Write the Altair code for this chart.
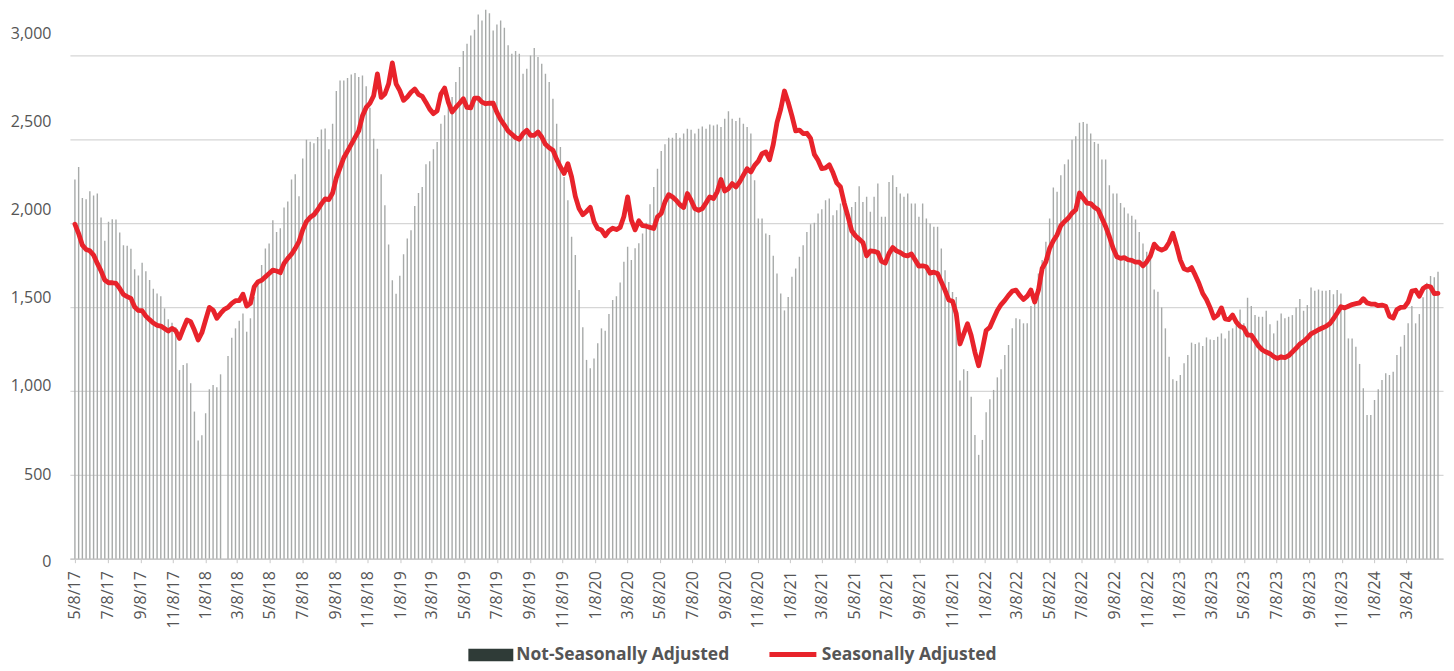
import altair as alt
import pandas as pd

# Weekly values, first week 5/8/17
nsa = [
    2260, 2335, 2150, 2143, 2190, 2165, 2177, 2034, 1895, 2008,
    2024, 2022, 1944, 1869, 1865, 1847, 1726, 1688, 1764, 1714,
    1661, 1609, 1581, 1565, 1492, 1427, 1407, 1379, 1125, 1155,
    1165, 1046, 877, 704, 736, 867, 1010, 1036, 1022, 1099,
    0, 1208, 1317, 1373, 1419, 1462, 1353, 1433, 1560, 1630,
    1750, 1849, 1879, 2018, 1948, 1970, 2093, 2129, 2260, 2292,
    2161, 2385, 2498, 2486, 2476, 2514, 2558, 2565, 2440, 2593,
    2788, 2851, 2851, 2865, 2887, 2895, 2871, 2881, 2817, 2688,
    2504, 2444, 2292, 2107, 1873, 1660, 1580, 1686, 1815, 1909,
    1958, 2103, 2180, 2216, 2351, 2369, 2440, 2484, 2593, 2643,
    2708, 2752, 2841, 2931, 3026, 3069, 3119, 3153, 3244, 3208,
    3272, 3252, 3149, 3185, 3208, 3165, 3060, 3010, 3026, 3010,
    2891, 2921, 3000, 3044, 2990, 2950, 2891, 2841, 2742, 2593,
    2454, 2276, 2137, 1919, 1810, 1601, 1379, 1185, 1135, 1194,
    1284, 1373, 1359, 1458, 1542, 1565, 1647, 1770, 1860, 1780,
    1850, 1880, 1938, 2002, 2113, 2216, 2325, 2430, 2470, 2510,
    2510, 2538, 2510, 2534, 2563, 2557, 2534, 2563, 2577, 2563,
    2589, 2583, 2589, 2573, 2623, 2667, 2623, 2609, 2629, 2593,
    2573, 2534, 2256, 2028, 2028, 1938, 1929, 1806, 1700, 1581,
    1480, 1560, 1680, 1730, 1800, 1869, 1948, 1994, 2002, 2058,
    2083, 2137, 2147, 2048, 2077, 2117, 2097, 2038, 2097, 2127,
    2220, 2127, 2157, 2068, 2157, 2236, 2038, 2038, 2246, 2286,
    2216, 2177, 2157, 2177, 2117, 2117, 2038, 2117, 2028, 1998,
    1978, 1978, 1849, 1720, 1650, 1590, 1560, 1062, 1129, 1119,
    966, 738, 619, 708, 873, 950, 1006, 1081, 1129, 1214,
    1274, 1373, 1433, 1427, 1403, 1403, 1506, 1581, 1700, 1780,
    1889, 2028, 2212, 2187, 2286, 2351, 2379, 2498, 2518, 2599,
    2603, 2593, 2534, 2484, 2474, 2379, 2379, 2226, 2177, 2177,
    2120, 2093, 2058, 2044, 2022, 1948, 1879, 1829, 1819, 1605,
    1591, 1498, 1373, 1204, 1069, 1060, 1095, 1165, 1214, 1288,
    1280, 1288, 1268, 1319, 1307, 1304, 1323, 1343, 1313, 1359,
    1373, 1413, 1486, 1403, 1556, 1506, 1452, 1442, 1442, 1478,
    1397, 1343, 1419, 1462, 1433, 1442, 1452, 1498, 1548, 1478,
    1512, 1617, 1597, 1605, 1597, 1597, 1601, 1577, 1601, 1581,
    1506, 1313, 1313, 1264, 1161, 1016, 857, 857, 946, 1010,
    1065, 1105, 1095, 1115, 1214, 1264, 1333, 1403, 1506, 1403,
    1458, 1558, 1645, 1685, 1677, 1710,
]

sa = [
    1994, 1938, 1869, 1843, 1835, 1810, 1760, 1716, 1661, 1645,
    1645, 1641, 1611, 1575, 1562, 1552, 1500, 1480, 1478, 1446,
    1425, 1405, 1391, 1387, 1372, 1357, 1373, 1359, 1313, 1370,
    1423, 1413, 1363, 1304, 1347, 1423, 1498, 1482, 1433, 1462,
    1486, 1498, 1522, 1538, 1538, 1577, 1506, 1522, 1620, 1650,
    1660, 1680, 1700, 1720, 1715, 1705, 1760, 1790, 1815, 1850,
    1890, 1960, 2010, 2035, 2050, 2080, 2115, 2145, 2140, 2180,
    2270, 2330, 2390, 2430, 2470, 2510, 2550, 2640, 2690, 2715,
    2760, 2890, 2750, 2770, 2830, 2955, 2831, 2790, 2732, 2752,
    2780, 2800, 2768, 2756, 2720, 2680, 2653, 2670, 2770, 2805,
    2720, 2663, 2690, 2715, 2742, 2690, 2688, 2745, 2745, 2722,
    2712, 2715, 2715, 2660, 2617, 2585, 2550, 2530, 2510, 2500,
    2534, 2554, 2524, 2524, 2544, 2514, 2470, 2450, 2435, 2380,
    2335, 2296, 2355, 2276, 2160, 2087, 2050, 2070, 2095, 2010,
    1968, 1960, 1925, 1955, 1970, 1962, 1975, 2040, 2157, 2018,
    1960, 2014, 1985, 1982, 1975, 1968, 2038, 2058, 2127, 2170,
    2157, 2137, 2110, 2093, 2177, 2137, 2087, 2077, 2087, 2121,
    2157, 2147, 2187, 2260, 2192, 2206, 2236, 2216, 2246, 2286,
    2325, 2305, 2345, 2370, 2415, 2425, 2378, 2470, 2600, 2680,
    2788, 2720, 2640, 2550, 2555, 2534, 2536, 2505, 2410, 2375,
    2325, 2330, 2348, 2300, 2240, 2216, 2120, 2040, 1955, 1925,
    1905, 1885, 1805, 1835, 1832, 1825, 1772, 1762, 1820, 1855,
    1835, 1825, 1810, 1805, 1817, 1780, 1744, 1746, 1740, 1702,
    1708, 1700, 1650, 1600, 1542, 1535, 1460, 1280, 1340, 1400,
    1330, 1230, 1150, 1250, 1360, 1380, 1430, 1480, 1515, 1540,
    1570, 1595, 1601, 1570, 1545, 1565, 1601, 1530, 1600, 1730,
    1770, 1850, 1895, 1930, 1985, 2010, 2030, 2060, 2080, 2180,
    2150, 2120, 2117, 2095, 2080, 2030, 1980, 1920, 1850, 1800,
    1790, 1795, 1782, 1778, 1768, 1768, 1746, 1770, 1805, 1875,
    1850, 1839, 1850, 1885, 1940, 1865, 1780, 1728, 1720, 1735,
    1690, 1640, 1581, 1545, 1495, 1435, 1452, 1495, 1430, 1425,
    1452, 1410, 1385, 1375, 1333, 1333, 1300, 1266, 1244, 1232,
    1222, 1205, 1194, 1204, 1198, 1210, 1232, 1254, 1280, 1295,
    1315, 1340, 1352, 1365, 1375, 1385, 1400, 1430, 1465, 1502,
    1495, 1505, 1515, 1520, 1525, 1550, 1525, 1518, 1518, 1508,
    1512, 1505, 1445, 1435, 1485, 1498, 1500, 1530, 1595, 1600,
    1565, 1610, 1625, 1621, 1580, 1582,
]

tick_months = [(2017, 5), (2017, 7), (2017, 9), (2017, 11)] + [
    (y, m) for y in range(2018, 2024) for m in (1, 3, 5, 7, 9, 11)
] + [(2024, 1), (2024, 3)]
y_ticks = [0, 500, 1000, 1500, 2000, 2500, 3000]
y_label_shift = [3, 0, -5, -10, -14, -18, -22]

NSA_NAME = "Not-Seasonally Adjusted"
SA_NAME = "Seasonally Adjusted"

dates = pd.date_range("2017-05-08", periods=len(nsa), freq="7D")
df = pd.DataFrame({
    "date": dates.strftime("%Y-%m-%dT00:00:00"),
    "nsa": nsa,
    "sa": sa,
    "sa_label": SA_NAME,
})
dummy = pd.DataFrame({"date": [df["date"][0]], "v": [0], "nsa_label": [NSA_NAME]})

FONT = "Open Sans"
LABEL_COLOR = "#555555"

x_enc = alt.X(
    "date:T",
    scale=alt.Scale(domain=[alt.DateTime(year=2017, month=5, date=8),
                            alt.DateTime(year=2024, month=5, date=6)]),
    axis=alt.Axis(
        values=[alt.DateTime(year=y, month=m, date=8) for y, m in tick_months],
        format="%-m/%-d/%y", labelAngle=-90, labelAlign="right", labelBaseline="middle",
        labelPadding=8, tickSize=4, tickColor="#c9c9c9", domainColor="#c9c9c9",
        domainWidth=1.5, grid=False, labelFont=FONT, labelFontSize=16,
        labelColor=LABEL_COLOR, title=None, labelOverlap=False,
    ),
)

y_axis = alt.Axis(
    values=y_ticks, format=",.0f", labelPadding=19, ticks=False, domain=False,
    gridColor="#d6d6d6", gridWidth=1.3, labelFont=FONT, labelFontSize=16,
    labelColor=LABEL_COLOR, title=None,
    labelOffset={
        "condition": [{"test": f"datum.value == {v}", "value": s}
                      for v, s in zip(y_ticks, y_label_shift)],
        "value": 0,
    },
)
y_scale = alt.Scale(domain=[0, 3280], nice=False)

bars = alt.Chart(df).mark_bar(width=1.4, color="#a7aaa9").encode(
    x=x_enc,
    y=alt.Y("nsa:Q", scale=y_scale, axis=y_axis),
)

legend_common = dict(
    orient="none", title=None, labelFont=FONT, labelFontSize=17.5,
    labelFontWeight="bold", labelColor=LABEL_COLOR, labelLimit=400,
)

nsa_key = alt.Chart(dummy).mark_bar(width=1).encode(
    x=x_enc,
    y=alt.Y("v:Q", scale=y_scale, axis=y_axis),
    fill=alt.Fill(
        "nsa_label:N",
        scale=alt.Scale(domain=[NSA_NAME], range=["#2f3b37"]),
        legend=alt.Legend(
            legendX=399, legendY=625, symbolType="M-1,-0.28H1V0.28H-1Z",
            symbolSize=2025, symbolStrokeWidth=0, labelOffset=3, **legend_common,
        ),
    ),
)

line = alt.Chart(df).mark_line(strokeWidth=4.8, strokeJoin="round", strokeCap="round").encode(
    x=x_enc,
    y=alt.Y("sa:Q", scale=y_scale, axis=y_axis),
    stroke=alt.Stroke(
        "sa_label:N",
        scale=alt.Scale(domain=[SA_NAME], range=["#e8232b"]),
        legend=alt.Legend(
            legendX=698, legendY=621, symbolType="stroke", symbolSize=2209,
            symbolStrokeWidth=5, labelOffset=3, **legend_common,
        ),
    ),
)

chart = alt.layer(bars, nsa_key, line).properties(
    width=1375, height=551,
    autosize=alt.AutoSizeParams(type="none"),
    padding={"left": 62, "top": 0, "right": 3, "bottom": 107},
).configure_view(stroke=None)

chart.save("out.html", embed_options={"renderer": "svg", "actions": False})
